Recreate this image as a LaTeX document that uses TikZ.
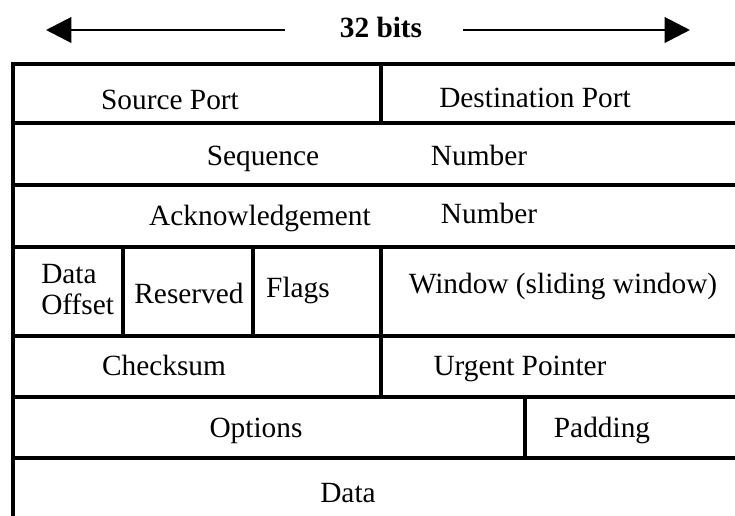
\documentclass[tikz,border=0pt]{standalone}
\usepackage{fontspec}
\setmainfont{Liberation Serif}
\usetikzlibrary{arrows.meta}
\begin{document}
\begin{tikzpicture}
[x=0.75pt,y=-0.75pt,
  fielddecorate/.style={font=\fontsize{22}{24}\selectfont,anchor=base,inner sep=0pt},%
  linedecorate/.style={line width=2.6pt,line cap=rect},%
  arrowdecorate/.style={-{Triangle[length=19pt,width=19pt]},line width=2.2pt}]
\useasboundingbox (0,0) rectangle (735,516);
\clip (0,0) rectangle (735,516);
%% header with width arrows
\node (bits) [fielddecorate,font=\bfseries\fontsize{22}{24}\selectfont] at (381,38) {32 bits};
\coordinate (lgap) at (285,30);
\coordinate (ltip) at (46,30);
\coordinate (rgap) at (463,30);
\coordinate (rtip) at (690,30);
\draw[arrowdecorate] (lgap) -- (ltip);
\draw[arrowdecorate] (rgap) -- (rtip);
%% table rules
\foreach \y in {64,123,185,247,336,397,458} {
  \draw[linedecorate] (13,\y) -- (745,\y);
}
\draw[linedecorate] (13,64) -- (13,530);
\foreach \x/\ya/\yb in {381/64/123, 381/247/397, 123/247/336,
  253/247/336, 525/397/458} {
  \draw[linedecorate] (\x,\ya) -- (\x,\yb);
}
%% header fields
\foreach \fieldname/\x/\y/\fieldtext in {src/170/110/Source Port,
  dst/535/108/Destination Port, seq/263/166/Sequence, seqnum/479/166/Number,
  ack/260/226/Acknowledgement, acknum/489/224/Number,
  resv/189/304/Reserved, flags/298/298/Flags,
  win/563/294/Window (sliding window), csum/164/375/Checksum,
  urg/520/376/Urgent Pointer, opts/256/437/Options,
  pad/602/437/Padding, data/348/502/Data} {
  \node (\fieldname) [fielddecorate] at (\x,\y) {\fieldtext};
}
\node (doff) [fielddecorate,anchor=north west,align=left,
  font=\fontsize{22}{23}\selectfont] at (41,264) {Data\\Offset};
\end{tikzpicture}
\end{document}
